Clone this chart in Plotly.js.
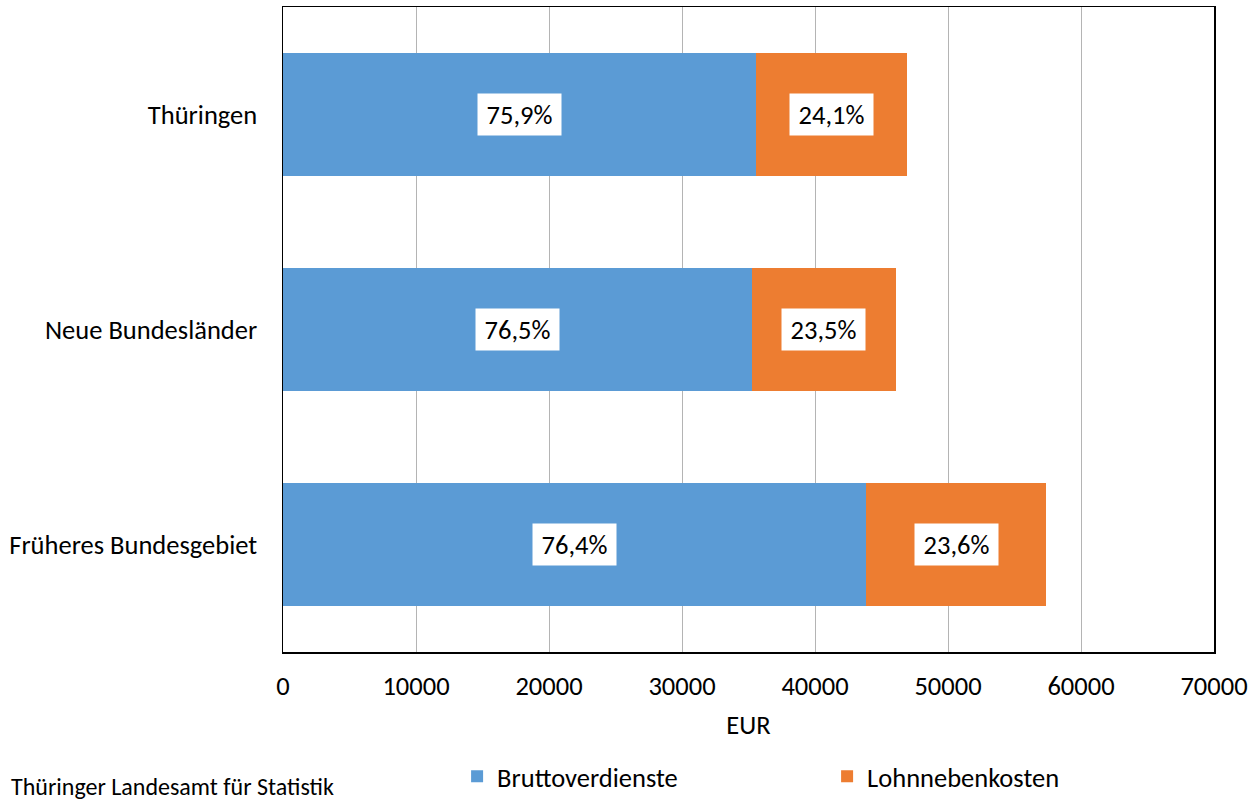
<!DOCTYPE html>
<html>
<head>
<meta charset="utf-8">
<script src="https://cdn.plot.ly/plotly-3.0.1.min.js"></script>
<style>html,body{margin:0;padding:0;background:#fff;}#chart{width:1259px;height:803px;}</style>
</head>
<body>
<div id="chart"></div>
<script>
const categories = ["Thüringen", "Neue Bundesländer", "Früheres Bundesgebiet"];
const bruttoverdienste = [35600, 35250, 43830];
const lohnnebenkosten = [11290, 10840, 13550];
const bruttoLabels = ["75,9%", "76,5%", "76,4%"];
const lohnLabels = ["24,1%", "23,5%", "23,6%"];
const seriesNames = ["Bruttoverdienste", "Lohnnebenkosten"];
const xTicks = [0, 10000, 20000, 30000, 40000, 50000, 60000, 70000];
const xTitle = "EUR";
const source = "Thüringer Landesamt für Statistik";

const FONT = "Carlito, Calibri, 'Open Sans', sans-serif";
const FS = 26.5;

const traces = [
  {type: "bar", orientation: "h", name: seriesNames[0], y: categories, x: bruttoverdienste,
   marker: {color: "#5B9BD5", line: {width: 0}}, hoverinfo: "x"},
  {type: "bar", orientation: "h", name: seriesNames[1], y: categories, x: lohnnebenkosten,
   marker: {color: "#ED7D31", line: {width: 0}}, hoverinfo: "x"}
];

const annotations = [];
categories.forEach((c, i) => {
  annotations.push({x: bruttoverdienste[i] / 2, y: c, xref: "x", yref: "y", text: bruttoLabels[i],
    showarrow: false, bgcolor: "#ffffff", borderpad: 0, width: 83, height: 41, font: {family: FONT, size: FS, color: "#000"}});
  annotations.push({x: bruttoverdienste[i] + lohnnebenkosten[i] / 2, y: c, xref: "x", yref: "y", text: lohnLabels[i],
    showarrow: false, bgcolor: "#ffffff", borderpad: 0, width: 83, height: 41, font: {family: FONT, size: FS, color: "#000"}});
});
annotations.push({x: -0.293, y: -0.233, xref: "paper", yref: "paper", xanchor: "left", yanchor: "bottom",
  text: source, showarrow: false, borderpad: 0, font: {family: FONT, size: 24, color: "#000"}});

const layout = {
  width: 1259, height: 803,
  margin: {l: 283, r: 45, t: 7, b: 151, autoexpand: false},
  paper_bgcolor: "#fff", plot_bgcolor: "#fff",
  barmode: "stack", bargap: 0.427,
  font: {family: FONT, size: FS, color: "#000"},
  showlegend: true,
  legend: {orientation: "h", x: 0.187, y: -0.193, xanchor: "left", yanchor: "middle",
    font: {family: FONT, size: FS, color: "#000"}, entrywidth: 325, entrywidthmode: "pixels", traceorder: "normal"},
  xaxis: {range: [0, 70000], tickvals: xTicks, ticktext: xTicks.map(String), showgrid: true, automargin: false,
    gridcolor: "#B4B4B4", gridwidth: 1, zeroline: false, showline: true, linecolor: "#000", linewidth: 1.5,
    mirror: true, ticks: "outside", ticklen: 10, tickcolor: "rgba(0,0,0,0)", tickfont: {family: FONT, size: FS},
    title: {text: xTitle, font: {family: FONT, size: FS}, standoff: 14}, fixedrange: true},
  yaxis: {autorange: "reversed", showgrid: false, zeroline: false, showline: true, linecolor: "#000", automargin: false,
    linewidth: 1.5, mirror: true, ticks: "outside", ticklen: 19, tickcolor: "rgba(0,0,0,0)",
    tickfont: {family: FONT, size: FS}, fixedrange: true},
  annotations: annotations
};

Plotly.newPlot("chart", traces, layout, {displayModeBar: false, staticPlot: true});
</script>
</body>
</html>
